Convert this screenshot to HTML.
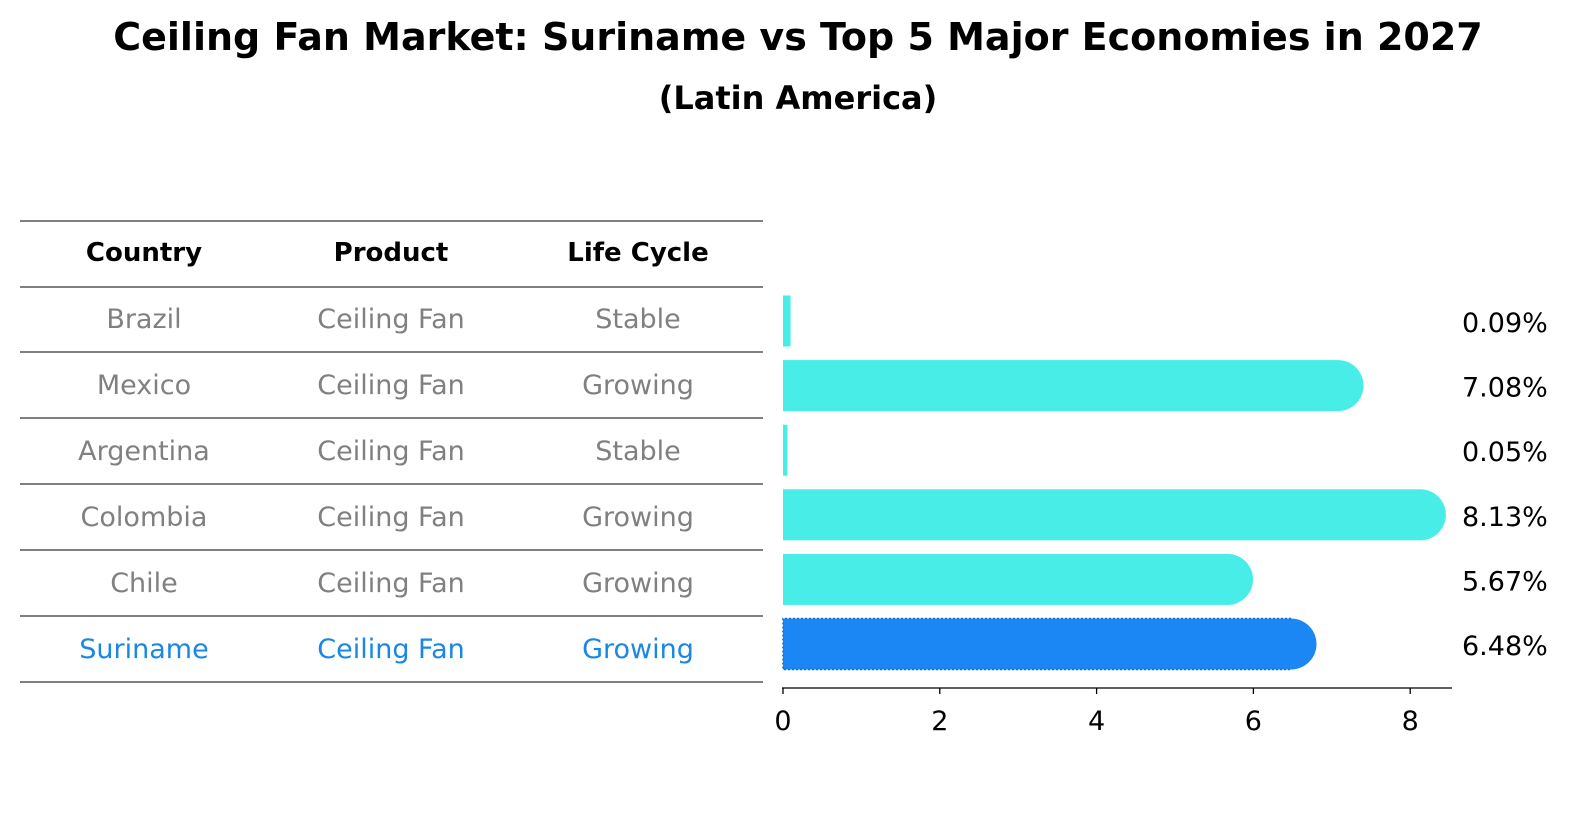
<!DOCTYPE html>
<html><head><meta charset="utf-8"><style>
body{margin:0;background:#fff;font-family:"Liberation Sans","DejaVu Sans",sans-serif}
svg text{font-family:"DejaVu Sans","Liberation Sans",sans-serif}
</style></head><body>
<svg id="chart" width="1586" height="823" xmlns="http://www.w3.org/2000/svg">
<text x="798" y="50" text-anchor="middle" font-size="38" font-weight="bold">Ceiling Fan Market: Suriname vs Top 5 Major Economies in 2027</text>
<text x="798" y="109" text-anchor="middle" font-size="32" font-weight="bold">(Latin America)</text>
<g id="table"></g>
<g id="bars"></g>
<g id="axis"></g>
</svg>
<script>
const countries=["Brazil","Mexico","Argentina","Colombia","Chile","Suriname"];
const products=["Ceiling Fan","Ceiling Fan","Ceiling Fan","Ceiling Fan","Ceiling Fan","Ceiling Fan"];
const lifeCycles=["Stable","Growing","Stable","Growing","Growing","Growing"];
const values=[0.09,7.08,0.05,8.13,5.67,6.48];
const valueLabels=["0.09%","7.08%","0.05%","8.13%","5.67%","6.48%"];
const ticks=[0,2,4,6,8];
const NS="http://www.w3.org/2000/svg";
function mk(t,a,p,txt){const e=document.createElementNS(NS,t);for(const k in a)e.setAttribute(k,a[k]);if(txt!==undefined)e.textContent=txt;p.appendChild(e);return e;}
const x=v=>783+v*78.4;
const rowY=i=>321+i*64.6;
const tbl=document.getElementById('table'),bars=document.getElementById('bars'),ax=document.getElementById('axis');
const lines=[221,287,352,418,484,550,616,682];
lines.forEach(y=>{const l=mk('line',{x1:20,x2:763,y1:y,y2:y,stroke:'#000','stroke-width':1},tbl);});
const colX=[144,391,638];
["Country","Product","Life Cycle"].forEach((h,j)=>{const t=mk('text',{x:colX[j],y:261,'text-anchor':'middle','font-size':26,'font-weight':'bold'},tbl,h);});
const tableRowY=[318,384,450,516,582,648];
countries.forEach((c,i)=>{
  const col=c==="Suriname"?"#1a87e6":"#808080";
  [c,products[i],lifeCycles[i]].forEach((v,j)=>{const t=mk('text',{x:colX[j],y:tableRowY[i]+10,'text-anchor':'middle','font-size':27,fill:col},tbl,v);});
  const cy=rowY(i),h=51,fill=c==="Suriname"?"#1a87f5":"#48ede8";
  const w=x(values[i])-x(0);
  const g=mk('g',{},bars);
  
  
  mk('rect',{x:x(0),y:cy-h/2,width:w+0.5,height:h,fill:fill},g);
  if(values[i]>1){mk('path',{d:`M${x(values[i])} ${cy-h/2} A${h/2} ${h/2} 0 0 1 ${x(values[i])} ${cy+h/2} Z`,fill:fill},g);}
  if(c==="Suriname"){mk('path',{d:`M${x(values[i])} ${cy-h/2} H${x(0)} V${cy+h/2} H${x(values[i])}`,fill:'none',stroke:'#1570c8','stroke-width':1.5,'stroke-dasharray':'2,2'},g);}
  const t=mk('text',{x:1462,y:cy+11,'font-size':27},bars,valueLabels[i]);
  
});
mk('line',{x1:782,x2:1452,y1:688,y2:688,stroke:'#000','stroke-width':1.3},ax);
ticks.forEach(v=>{const l=mk('line',{x1:x(v),x2:x(v),y1:688,y2:694,stroke:'#000','stroke-width':1.3},ax);
 const t=mk('text',{x:x(v),y:730,'text-anchor':'middle','font-size':27},ax,String(v));});
</script>
</body></html>
